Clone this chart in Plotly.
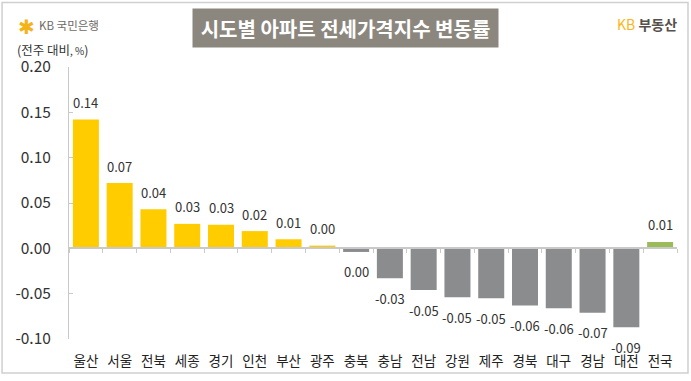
import plotly.graph_objects as go

categories = ["울산","서울","전북","세종","경기","인천","부산","광주","충북","충남","전남","강원","제주","경북","대구","경남","대전","전국"]
values = [0.142,0.072,0.043,0.027,0.026,0.019,0.010,0.003,-0.004,-0.033,-0.046,-0.054,-0.055,-0.063,-0.066,-0.071,-0.087,0.007]
labels = ["0.14","0.07","0.04","0.03","0.03","0.02","0.01","0.00","0.00","-0.03","-0.05","-0.05","-0.05","-0.06","-0.06","-0.07","-0.09","0.01"]
tick_vals = [-0.10,-0.05,0.0,0.05,0.10,0.15,0.20]
tick_text = ["-0.10","-0.05","0.00","0.05","0.10","0.15","0.20"]

YEL, GRY, GRN = "#ffcc00", "#8a8c8e", "#9bbb59"
colors = [GRN if c == "전국" else (YEL if v >= 0 else GRY) for c, v in zip(categories, values)]

W, H = 691, 381
L, R, T, B = 68.5, 677, 67, 339
FONT = "Noto Sans CJK KR"
LINE = "#c9c9c9"

def px(x): return (x - L) / (R - L)
def py(y): return (B - y) / (B - T)

fig = go.Figure(go.Bar(x=categories, y=values, marker_color=colors, marker_line_width=0, width=0.77))

annotations = []
for c, v, t in zip(categories, values, labels):
    annotations.append(dict(x=c, y=v, text=t, showarrow=False, xanchor="center", yanchor="middle",
                            yshift=17 if v >= 0 else -20, font=dict(family=FONT, size=13, color="#333333")))

def note(x, y, text, size, color="#444444", anchor="left", **kw):
    annotations.append(dict(xref="paper", yref="paper", x=px(x), y=py(y), text=text, showarrow=False,
                            xanchor=anchor, yanchor="middle", font=dict(family=FONT, size=size, color=color), **kw))

note(345.5, 28, "<b>시도별 아파트 전세가격지수 변동률</b>", 20, "#ffffff", "center",
     bgcolor="#8c877e", width=303, height=36, align="center")
note(15, 25, "✱", 20, "#f5b31a")
note(36, 25, "KB 국민은행", 11.5, "#6f6a64")
note(14, 49, '(전주 대비<span style="font-size:10px">, %</span>)', 12.5, "#333333")
note(615, 24, '<span style="color:#fdb515">KB</span> <b>부동산</b>', 14, "#57504a")

border = dict(type="rect", xref="paper", yref="paper", x0=px(1.5), x1=px(688), y0=py(2.5), y1=py(373),
              line=dict(color="#cfcfcf", width=1.5), fillcolor="rgba(0,0,0,0)", layer="above")

fig.update_layout(
    width=W, height=H, showlegend=False, paper_bgcolor="white", plot_bgcolor="white",
    margin=dict(l=L, r=W - R, t=T, b=H - B, pad=0),
    font=dict(family=FONT, color="#333333"),
    annotations=annotations, shapes=[border], bargap=0.23,
    xaxis=dict(type="category", categoryorder="array", categoryarray=categories, showgrid=False, zeroline=False,
               showline=False, ticks="", ticklen=0, tickfont=dict(family=FONT, size=13.5, color="#222222"),
               ticklabelstandoff=12, tickangle=0, automargin=False),
    xaxis2=dict(type="category", categoryorder="array", categoryarray=categories, matches="x", overlaying="x",
                anchor="free", position=(0 - (-0.10)) / 0.30, side="bottom", showgrid=False, zeroline=False,
                showline=True, linecolor=LINE, linewidth=1.5, ticks="outside", ticklen=4, tickcolor=LINE,
                tickwidth=1, tickson="boundaries", showticklabels=False, automargin=False),
    yaxis=dict(range=[-0.10, 0.20], tickvals=tick_vals, ticktext=tick_text, showgrid=False, zeroline=False,
               showline=True, linecolor=LINE, linewidth=1, ticks="inside", ticklen=4, tickcolor=LINE,
               tickfont=dict(family=FONT, size=15.5, color="#333333"), ticklabelstandoff=14, automargin=False),
)
fig.add_trace(go.Bar(x=categories, y=[None] * len(categories), xaxis="x2", showlegend=False, hoverinfo="skip"))
fig.write_html("out.html", config={"displayModeBar": False},
               post_script="document.body.style.margin='0';document.documentElement.style.overflow='hidden';")
